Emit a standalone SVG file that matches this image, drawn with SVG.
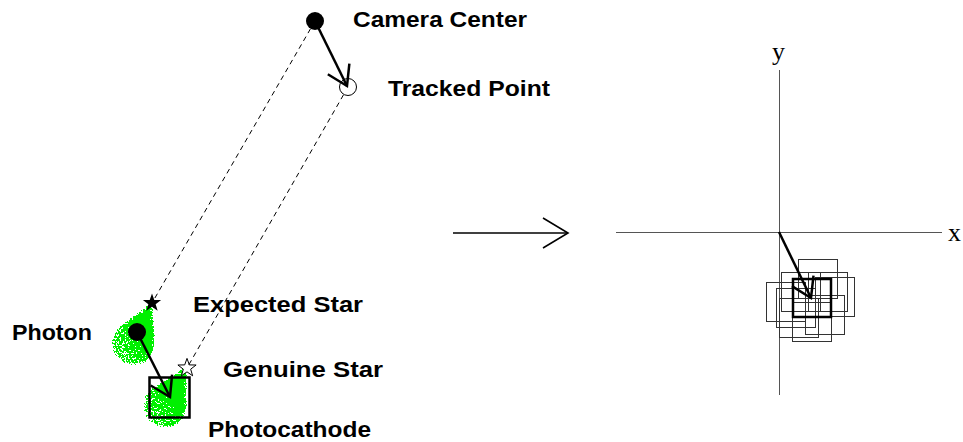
<svg xmlns="http://www.w3.org/2000/svg" width="963" height="442" viewBox="0 0 963 442">
  <style>
    .label { font-family: "Liberation Sans", Arial, Helvetica, sans-serif; font-weight: bold; font-size: 22px; fill: #000; }
    .axislabel { font-family: "Liberation Serif", "Times New Roman", serif; font-size: 26px; fill: #000; }
    .sight { fill: none; stroke: #000; stroke-width: 1; stroke-dasharray: 5 4; }
    .vec { fill: none; stroke: #000; stroke-width: 2.5; marker-end: url(#vhead); }
    .map { fill: none; stroke: #000; stroke-width: 1.6; marker-end: url(#vheadThin); }
    .axis { fill: none; stroke: #555; stroke-width: 1; }
    .hit { fill: none; stroke: #333; stroke-width: 1; }
    .pixel { fill: none; stroke: #000; stroke-width: 2.5; }
    .splash { filter: url(#speckle); }
  </style>
  <defs>
    <!-- open V arrowheads -->
    <marker id="vhead" markerUnits="userSpaceOnUse" markerWidth="26" markerHeight="30" viewBox="-23 -15 26 30" refX="0" refY="0" orient="auto" overflow="visible">
      <path d="M-19,-12 L0,0 L-19,12" fill="none" stroke="#000" stroke-width="2.5" stroke-linejoin="miter"/>
    </marker>
    <marker id="vheadThin" markerUnits="userSpaceOnUse" markerWidth="30" markerHeight="34" viewBox="-28 -17 30 34" refX="0" refY="0" orient="auto" overflow="visible">
      <path d="M-25,-15 L0,0 L-25,15" fill="none" stroke="#000" stroke-width="1.6"/>
    </marker>
    <!-- five-point star -->
    <path id="star" d="M0,-9.6 L2.3,-3.1 L9.1,-3 L3.65,1.2 L5.65,7.8 L0,3.85 L-5.65,7.8 L-3.65,1.2 L-9.1,-3 L-2.3,-3.1 Z"/>
    <!-- density fade for the photon splash: solid at the tip, sparse at the tail -->
    <linearGradient id="fade" x1="1" y1="0" x2="0" y2="1">
      <stop offset="0" stop-color="#0f0" stop-opacity="1"/>
      <stop offset="0.5" stop-color="#0f0" stop-opacity="1"/>
      <stop offset="0.8" stop-color="#0f0" stop-opacity="0.75"/>
      <stop offset="1" stop-color="#0f0" stop-opacity="0.62"/>
    </linearGradient>
    <!-- grainy green spray -->
    <filter id="speckle" x="-20%" y="-20%" width="140%" height="140%" color-interpolation-filters="sRGB">
      <feGaussianBlur in="SourceAlpha" stdDeviation="1.5" result="soft"/>
      <feTurbulence type="fractalNoise" baseFrequency="0.6" numOctaves="2" seed="7" result="noise"/>
      <feColorMatrix in="noise" type="matrix" values="0 0 0 0 0  0 0 0 0 0  0 0 0 0 0  2.5 0 0 0 -0.75" result="grain"/>
      <feComposite in="soft" in2="grain" operator="arithmetic" k1="0" k2="1" k3="0.55" k4="-0.5" result="sum"/>
      <feComponentTransfer in="sum" result="dots">
        <feFuncA type="discrete" tableValues="0 1"/>
      </feComponentTransfer>
      <feFlood flood-color="#00f000"/>
      <feComposite in2="dots" operator="in"/>
    </filter>
  </defs>

  <g id="splash-expected">
    <path class="splash" fill="url(#fade)" d="M153,301 L119.6,326.5 A22,22 0 1,0 155,343 Z"/>
  </g>
  <g id="splash-genuine">
    <path class="splash" fill="url(#fade)" d="M187,366 L153.2,387.4 A22,22 0 1,0 187,406 Z"/>
  </g>

  <g id="camera-center">
    <circle cx="315" cy="21" r="9" fill="#000"/>
    <text class="label" x="353" y="27" textLength="174" lengthAdjust="spacingAndGlyphs">Camera Center</text>
  </g>

  <g id="tracked-point">
    <circle cx="348" cy="87" r="8.5" fill="none" stroke="#000" stroke-width="1"/>
    <text class="label" x="388" y="96" textLength="162" lengthAdjust="spacingAndGlyphs">Tracked Point</text>
  </g>

  <g id="expected-star">
    <use href="#star" transform="translate(152,303)" fill="#000"/>
    <text class="label" x="193" y="312" textLength="170" lengthAdjust="spacingAndGlyphs">Expected Star</text>
  </g>

  <g id="photon">
    <circle cx="137" cy="332" r="9" fill="#000"/>
    <text class="label" x="12" y="340" textLength="80" lengthAdjust="spacingAndGlyphs">Photon</text>
  </g>

  <g id="genuine-star">
    <use href="#star" transform="translate(187,368)" fill="#fff" stroke="#000" stroke-width="1"/>
    <text class="label" x="223" y="377" textLength="160" lengthAdjust="spacingAndGlyphs">Genuine Star</text>
  </g>

  <g id="photocathode">
    <rect class="pixel" x="149.5" y="377.5" width="40" height="40"/>
    <text class="label" x="208" y="437" textLength="163" lengthAdjust="spacingAndGlyphs">Photocathode</text>
  </g>

  <!-- detector plane -->
  <g id="axes">
    <line class="axis" x1="779.5" y1="70" x2="779.5" y2="395"/>
    <line class="axis" x1="616" y1="232.5" x2="942" y2="232.5"/>
    <text class="axislabel" x="772" y="60">y</text>
    <text class="axislabel" x="948" y="241">x</text>
  </g>

  <g id="photon-hits">
    <rect class="hit" x="798.5" y="259.5" width="39" height="39"/>
    <rect class="hit" x="781.5" y="272.5" width="39" height="39"/>
    <rect class="hit" x="808.5" y="272.5" width="39" height="39"/>
    <rect class="hit" x="766.5" y="282.5" width="39" height="39"/>
    <rect class="hit" x="815.5" y="277.5" width="39" height="39"/>
    <rect class="hit" x="776.5" y="288.5" width="39" height="39"/>
    <rect class="hit" x="779.5" y="298.5" width="39" height="39"/>
    <rect class="hit" x="805.5" y="295.5" width="39" height="39"/>
    <rect class="hit" x="792.5" y="302.5" width="39" height="39"/>
  </g>

  <g id="centroid-pixel">
    <rect class="pixel" x="793" y="279" width="38" height="38" fill="#fff"/>
  </g>

  <!-- lines of sight and displacement vectors -->
  <g id="connectors">
    <line class="sight" x1="315" y1="21" x2="152" y2="303"/>
    <line class="sight" x1="343.5" y1="94.8" x2="187" y2="368"/>
    <line class="vec" x1="315" y1="21" x2="347" y2="86"/>
    <line class="vec" x1="137" y1="332" x2="170" y2="397"/>
    <line class="map" x1="453" y1="233" x2="568" y2="233"/>
    <line class="vec" x1="779" y1="232" x2="811" y2="298"/>
  </g>
</svg>
